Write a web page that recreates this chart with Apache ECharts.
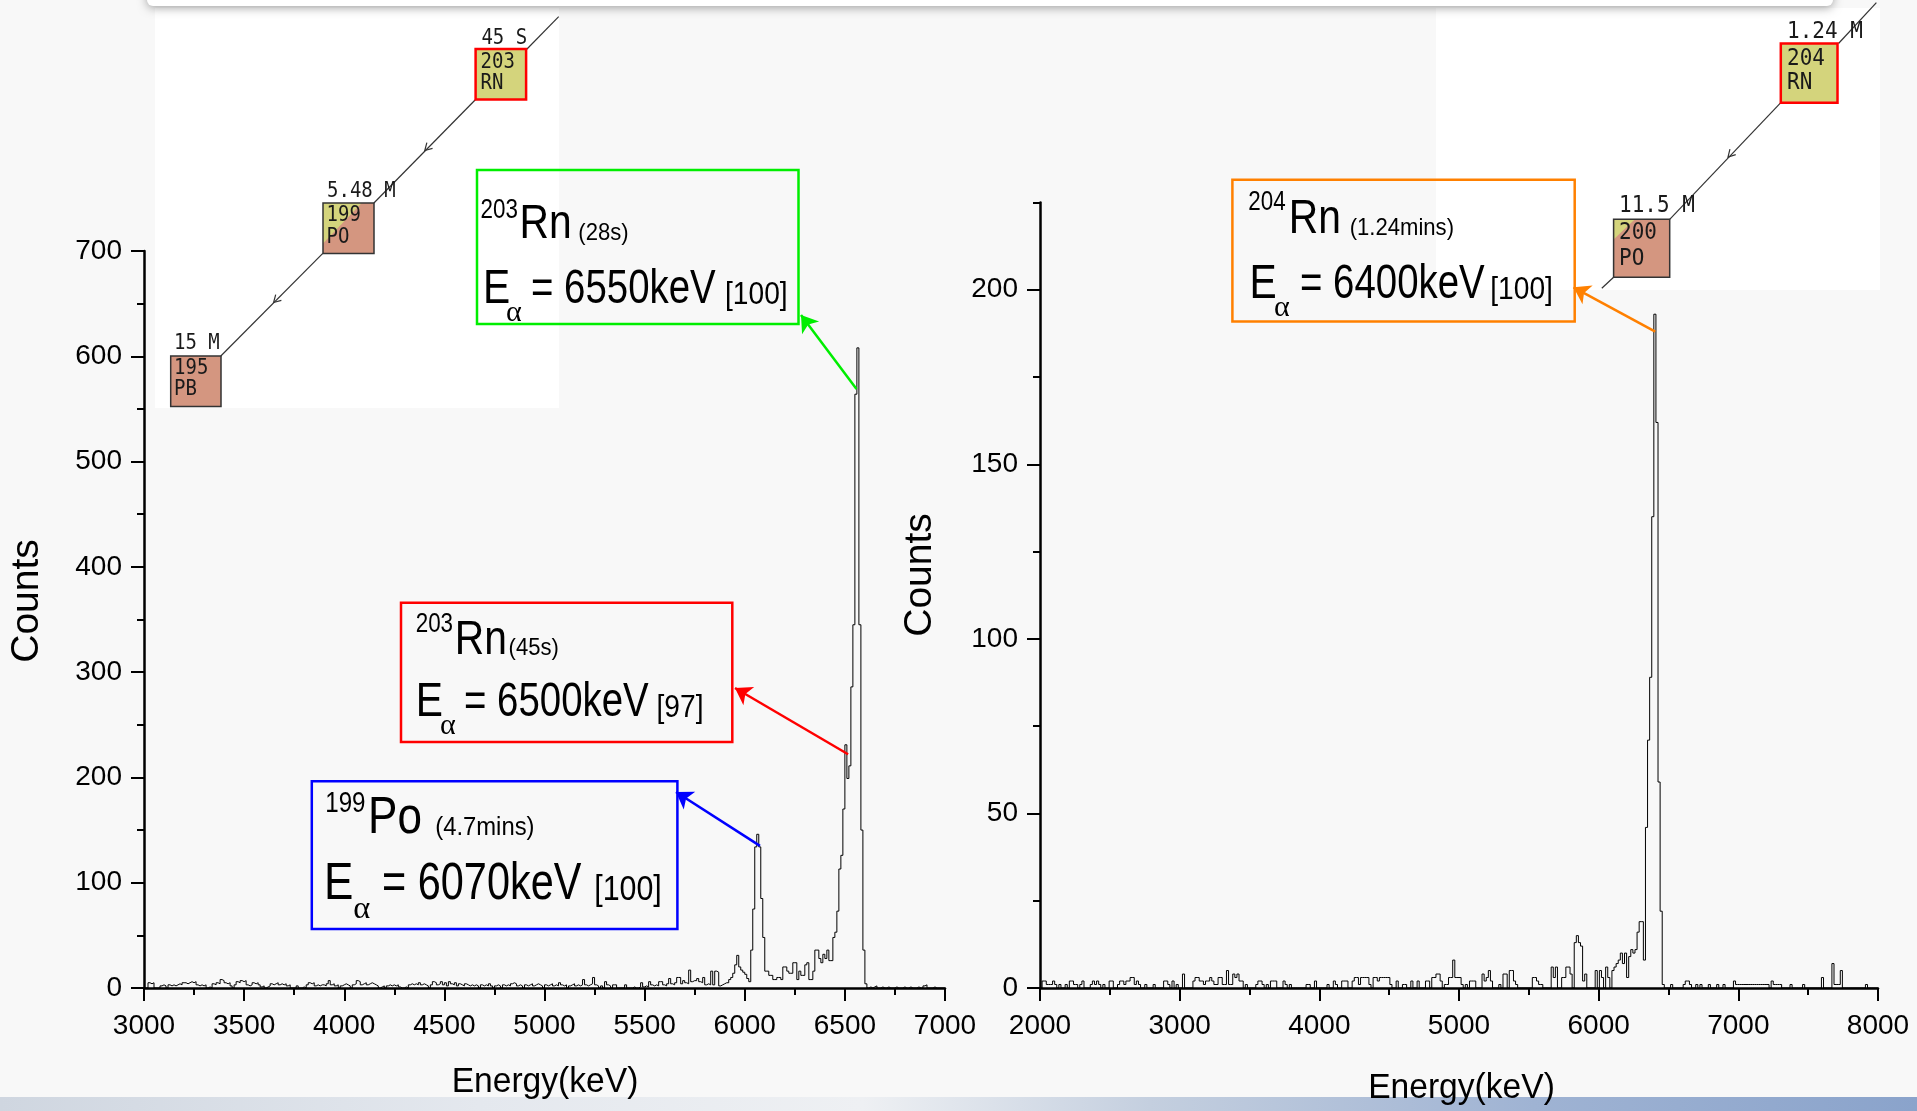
<!DOCTYPE html>
<html>
<head>
<meta charset="utf-8">
<script src="https://cdn.jsdelivr.net/npm/echarts@6/dist/echarts.min.js"></script>
<style>
  html, body { margin: 0; padding: 0; background: #f8f8f8; }
  #chart { width: 1917px; height: 1111px; }
</style>
</head>
<body>
<div id="chart"></div>
<script>
// 左谱：10 keV 每道，3000-7000 keV
const leftStart = 3000, leftBin = 10;
const l3000 = [0,0,5,4,5,0,0,0,2,3, 2,0,3,2,3,2,3,4,3,5, 5,4,5,6,5,6,3,2,3,2, 3,0,1,0,4,3,5,4,8,7,
  5,4,5,2,0,3,6,5,7,6, 7,3,2,3,5,4,5,3,1,2, 0,1,2,4,3,4,5,3,4,3, 4,2,3,0,0,0,2,0,0,1,
  0,3,5,4,5,2,3,2,3,3, 2,4,7,3,4,2,3,0,2,3];
const l4000 = [4,3,2,0,3,4,7,6,3,4, 5,3,4,5,4,3,2,0,1,2, 0,2,3,2,3,2,3,1,0,0, 1,0,3,4,3,4,3,5,3,4,
  3,2,0,3,6,5,3,4,6,3, 5,2,6,4,3,5,2,4,3,2, 4,3,2,3,2,3,2,0,3,2, 3,2,4,2,0,2,3,2,0,3,
  2,3,2,4,5,4,2,3,2,0, 3,2,3,4,2,3,4,3,2,0];
const l5000 = [3,2,3,4,2,3,2,5,3,2, 3,0,2,3,4,2,3,2,3,8, 3,2,3,4,10,3,2,0,2,0, 6,3,2,0,3,3,0,0,0,0,
  3,0,0,0,1,0,0,1,5,1, 2,1,6,3,2,3,2,6,6,3, 2,4,9,4,3,5,10,10,4,7, 5,4,17,6,7,7,9,6,5,10,
  3,4,3,16,3,16,15,2,3,4, 5,5,8,10,14,22,31,20,17,15];
const l6000 = [13,9,6,36,75,134,146,134,85,48, 16,16,12,12,8,8,10,10,8,20, 20,16,14,14,24,24,8,16,12,12,
  22,24,8,8,16,36,36,28,24,32, 28,36,26,26,48,53,73,113,126,170, 231,199,211,286,345,564,608,345,150,36,
  4,0,1,0,1,2,0,0,1,0, 0,1,0,0,0,1,0,0,0,1, 0,0,1,0,0,0,1,0,0,2, 3,0,0,0,1,0,0,0,0,0];

// 右谱：15 keV 每道，2000-8000 keV
const rightStart = 2000, rightBin = 15;
const r2000 = [0,2,2,1,1,1,2,1,0,1, 0,0,1,0,2,2,1,1,0,1, 2,0,0,0,1,2,1,2,1,0, 1,0,0,2,2,0,0,1,2,2,
  1,2,2,3,3,1,2,1,0,0, 1,0,0,0,1,0,0,0,0,2, 2,1,0,2,0,1,0,0,4,0, 0,0,0,2,3,3,2,2,1,2,
  2,3,2,1,1,3,3,1,1,5, 1,1,4,3,4,2,2,0,1,0];
const r3500 = [0,0,0,1,2,2,1,0,1,0, 2,2,2,0,0,0,2,1,0,1, 0,0,0,0,0,0,0,1,1,0, 0,2,0,0,0,0,0,1,0,0,
  2,1,0,0,2,2,2,0,0,2, 3,3,1,3,3,3,3,1,0,3, 3,2,3,3,3,3,3,1,0,0, 2,0,0,1,1,0,0,2,0,0,
  2,0,0,0,2,2,0,3,3,4, 4,2,0,1,1,3,3,8,3,3];
const r5000 = [3,1,0,1,0,2,2,2,0,0, 0,4,2,3,5,2,0,0,0,1, 0,4,4,0,5,5,2,1,0,0, 0,0,0,0,0,3,3,2,1,1,
  0,0,0,0,6,3,6,0,0,3, 3,6,6,4,0,13,15,13,12,2, 4,0,0,0,0,5,0,5,3,0, 6,3,0,5,6,7,8,10,7,10,
  3,9,11,10,11,16,19,19,8,46, 71,89,135,193,162,59,22,1,0,0];
const r6500 = [0,1,0,0,0,0,0,1,2,2, 1,0,0,1,0,1,0,0,0,1, 0,0,0,1,0,0,1,0,0,0, 0,2,1,1,1,1,1,1,1,1,
  1,1,1,1,1,1,1,1,0,2, 1,1,1,1,0,0,0,0,1,0, 0,0,0,0,1,0,0,0,0,0, 0,0,0,3,0,0,0,0,7,1,
  1,1,5,0,0,0,0,0,0,0, 0,0,0,0,1,0,0,0,0,0];

// 坐标轴
const leftX = { min: 3000, max: 7000, interval: 500 };
const leftY = { min: 0, max: 700, interval: 100 };
const rightX = { min: 2000, max: 8000, interval: 1000 };
const rightY = { min: 0, max: 225, interval: 50 };
const rightYLabels = [0, 50, 100, 150, 200];

// 箭头起点（峰上的数据点）
const peakLeft = [[6558, 569], [6516, 222], [6076, 135]];
const peakRight = [6405, 188];

function steps(start, bin, counts) {
  const pts = counts.map((c, i) => [start + i * bin, c]);
  pts.push([start + counts.length * bin, counts[counts.length - 1]]);
  return pts;
}

const FONT = 'Liberation Sans';
const labelStyle = { fontSize: 28, color: '#000', fontFamily: FONT, formatter: v => String(v) };
const lineBlack = { color: '#000', width: 2.5 };
const tickBlack = { color: '#000', width: 2 };

function frag(x, base, s, fs, sx, family) {
  return {
    type: 'text', x: x, y: base - 0.33 * fs, scaleX: sx, z: 100,
    style: { text: s, fontSize: fs, fontFamily: family || FONT, fill: '#000',
      align: 'left', verticalAlign: 'middle', textAlign: 'left', textVerticalAlign: 'middle' }
  };
}

function annot(b) {
  const k = b.k || 1;
  return [
    { type: 'rect', z: 99, shape: { x: b.rect[0], y: b.rect[1], width: b.rect[2], height: b.rect[3] },
      style: { fill: 'none', stroke: b.color, lineWidth: 2.5 } },
    frag(b.xs[0], b.top + 20 * k, b.mass, 28 * k, 0.8),
    frag(b.xs[1], b.b1, b.sym, 48 * k, 0.85),
    frag(b.xs[2], b.b1, b.half, 24 * k, 0.92),
    frag(b.xs[3], b.b2, 'E', 48 * k, 0.85),
    frag(b.xs[4], b.b2 + 17 * k, 'α', 30 * k, 1, 'Liberation Serif'),
    frag(b.xs[5], b.b2, b.energy, 48 * k, 0.8),
    frag(b.xs[6], b.b2, b.inten, 32 * k, 0.88)
  ];
}

const boxes = [
  { color: '#00ee00', rect: [477, 170, 321.5, 154], top: 199.3, b1: 240.8, b2: 305.6,
    xs: [480.5, 519.6, 578.3, 483, 506, 531, 725], mass: '203', sym: 'Rn', half: '(28s)', energy: '= 6550keV', inten: '[100]' },
  { color: '#ff0000', rect: [401, 602.7, 331.3, 139.4], top: 613.7, b1: 656.5, b2: 718.9,
    xs: [415.7, 454.8, 508.6, 415.7, 440, 464, 656.5], mass: '203', sym: 'Rn', half: '(45s)', energy: '= 6500keV', inten: '[97]' },
  { color: '#0000ff', rect: [311.8, 781.2, 365.6, 147.9], top: 792.2, b1: 836.3, b2: 902.3, k: 1.08,
    xs: [325.2, 368, 435.2, 324, 353.3, 382, 594.2], mass: '199', sym: 'Po', half: '(4.7mins)', energy: '= 6070keV', inten: '[100]' },
  { color: '#ff8000', rect: [1232.4, 179.7, 342.3, 141.8], top: 192, b1: 236, b2: 300.8,
    xs: [1248.3, 1288.7, 1349.7, 1249.5, 1274, 1300, 1490.3], mass: '204', sym: 'Rn', half: '(1.24mins)', energy: '= 6400keV', inten: '[100]' }
];

// 衰变链小图
const YEL = '#d4d47c', SAL = '#d49680';
function mono(x, cy, s, fs) {
  return { type: 'text', x: x, y: cy, z: 10, scaleY: 1.1,
    style: { text: s, fontSize: fs, fontFamily: 'DejaVu Sans Mono', fill: '#1a1a1a',
      align: 'left', verticalAlign: 'middle', textAlign: 'left', textVerticalAlign: 'middle' } };
}
function seg(x1, y1, x2, y2) {
  return { type: 'line', z: 5, shape: { x1: x1, y1: y1, x2: x2, y2: y2 }, style: { stroke: '#333', lineWidth: 1.2 } };
}
function chevron(px, py, x1, y1, x2, y2) {
  const L = Math.hypot(x2 - x1, y2 - y1), dx = (x2 - x1) / L, dy = (y2 - y1) / L;
  const nx = -dy, ny = dx;
  return { type: 'polyline', z: 6,
    shape: { points: [[px - 7 * dx + 4 * nx, py - 7 * dy + 4 * ny], [px, py], [px - 7 * dx - 4 * nx, py - 7 * dy - 4 * ny]] },
    style: { stroke: '#333', lineWidth: 1.2, fill: 'none' } };
}
function nuc(x, y, w, h, fill, stroke, lw, tri) {
  const els = [{ type: 'rect', z: 7, shape: { x: x, y: y, width: w, height: h }, style: { fill: fill } }];
  if (tri) els.push({ type: 'polygon', z: 8, shape: { points: [[x, y], [x + tri[0] * w, y], [x, y + tri[1] * h]] }, style: { fill: YEL } });
  els.push({ type: 'rect', z: 9, shape: { x: x, y: y, width: w, height: h }, style: { fill: 'none', stroke: stroke, lineWidth: lw } });
  return els;
}

const chain = [].concat(
  [{ type: 'rect', z: -10, shape: { x: 155, y: 8, width: 404, height: 400 }, style: { fill: '#ffffff' } },
   { type: 'rect', z: -10, shape: { x: 1436, y: 8, width: 444, height: 282 }, style: { fill: '#ffffff' } }],
  seg(526.5, 49.5, 558.7, 16.7), seg(475.6, 99.5, 373.9, 203), chevron(424.8, 150.5, 475.6, 99.5, 373.9, 203),
  seg(322.8, 253.3, 220.8, 356), chevron(273.6, 302.5, 322.8, 253.3, 220.8, 356),
  nuc(475.6, 49, 50.5, 50.5, YEL, '#ff0000', 2.5),
  nuc(323, 203, 51, 50.5, SAL, '#333', 1.5, [0.76, 0.8]),
  nuc(170.7, 356, 50.3, 50.5, SAL, '#333', 1.5),
  mono(481.4, 38.3, '45 S', 19), mono(480.5, 62.5, '203', 19), mono(480.5, 83.3, 'RN', 19),
  mono(327, 191.7, '5.48 M', 19), mono(326.5, 215.5, '199', 19), mono(326.5, 237.3, 'PO', 19),
  mono(174, 344, '15 M', 19), mono(174, 368.3, '195', 19), mono(174, 390, 'PB', 19),
  seg(1838.5, 43.5, 1876.4, 2.7), seg(1780.8, 102.7, 1669.7, 219.3), chevron(1728, 157, 1780.8, 102.7, 1669.7, 219.3),
  seg(1613.6, 277.3, 1601.8, 288.3),
  nuc(1780.8, 43.5, 56.7, 59.2, YEL, '#ff0000', 2.5),
  nuc(1613.6, 219.3, 56.1, 58, SAL, '#333', 1.5, [0.38, 0.35]),
  mono(1787, 31.7, '1.24 M', 21), mono(1787, 59, '204', 21), mono(1787, 83, 'RN', 21),
  mono(1619, 205.8, '11.5 M', 21), mono(1619, 233.3, '200', 21), mono(1619, 258.7, 'PO', 21)
);

function title(x, y, s, fs, sx, rot) {
  return { type: 'text', x: x, y: y, scaleX: sx, rotation: rot || 0, z: 100,
    style: { text: s, fontSize: fs, fontFamily: FONT, fill: '#000',
      align: 'center', verticalAlign: 'middle', textAlign: 'center', textVerticalAlign: 'middle' } };
}

const chart = echarts.init(document.getElementById('chart'));

const decor = [
  { type: 'rect', z: 90, shape: { x: 0, y: 1097, width: 1917, height: 14 },
    style: { fill: new echarts.graphic.LinearGradient(0, 0, 1, 0, [
      { offset: 0, color: '#cfd6e0' }, { offset: 0.25, color: '#e4e8ee' }, { offset: 0.45, color: '#eef0f3' },
      { offset: 0.6, color: '#c4cfdf' }, { offset: 0.8, color: '#9fb3d3' }, { offset: 1, color: '#8aa3cb' }]) } },
  { type: 'rect', z: 95, shape: { x: 147, y: -20, width: 1686, height: 26, r: 6 },
    style: { fill: '#ffffff', shadowBlur: 10, shadowColor: 'rgba(0,0,0,0.35)', shadowOffsetY: 2 } },
  title(27, 601, 'Counts', 39, 1, Math.PI / 2),
  title(920.6, 575, 'Counts', 39, 1, Math.PI / 2),
  title(545, 1082, 'Energy(keV)', 35, 0.96),
  title(1461.5, 1088, 'Energy(keV)', 35, 0.96)
];

let graphics = chain.concat(decor);
boxes.forEach(b => { graphics = graphics.concat(annot(b)); });

const arrowColors = ['#00ee00', '#ff0000', '#0000ff'];
const arrowEnds = [[801, 315], [735, 688], [676, 792]];

chart.setOption({
  backgroundColor: '#f8f8f8',
  animation: false,
  grid: [
    { left: 144, top: 251, width: 801, height: 737, outerBoundsMode: 'none' },
    { left: 1040, top: 202.5, width: 838, height: 785.5, outerBoundsMode: 'none' }
  ],
  xAxis: [
    { type: 'value', gridIndex: 0, min: leftX.min, max: leftX.max, interval: leftX.interval,
      axisLine: { lineStyle: lineBlack }, axisTick: { length: 13, lineStyle: tickBlack },
      minorTick: { show: true, splitNumber: 2, length: 7, lineStyle: tickBlack },
      axisLabel: Object.assign({ margin: 24 }, labelStyle), splitLine: { show: false } },
    { type: 'value', gridIndex: 1, min: rightX.min, max: rightX.max, interval: rightX.interval,
      axisLine: { lineStyle: lineBlack }, axisTick: { length: 13, lineStyle: tickBlack },
      minorTick: { show: true, splitNumber: 2, length: 7, lineStyle: tickBlack },
      axisLabel: Object.assign({ margin: 24 }, labelStyle), splitLine: { show: false } }
  ],
  yAxis: [
    { type: 'value', gridIndex: 0, position: 'left', min: leftY.min, max: leftY.max, interval: leftY.interval,
      axisLine: { show: true, lineStyle: lineBlack }, axisTick: { show: true, length: 13, lineStyle: tickBlack },
      minorTick: { show: true, splitNumber: 2, length: 7, lineStyle: tickBlack },
      axisLabel: Object.assign({ margin: 22 }, labelStyle), splitLine: { show: false } },
    { type: 'value', gridIndex: 1, position: 'left', min: rightY.min, max: rightY.max, interval: rightY.interval / 2,
      axisLine: { show: true, lineStyle: lineBlack }, axisTick: { show: true, length: 7, lineStyle: tickBlack },
      axisLabel: { show: false }, splitLine: { show: false } },
    { type: 'value', gridIndex: 1, position: 'left', min: rightY.min, max: rightY.max, interval: rightY.interval,
      axisLine: { show: false }, axisTick: { show: true, length: 13, lineStyle: tickBlack, customValues: rightYLabels },
      axisLabel: Object.assign({}, labelStyle, { margin: 22, customValues: rightYLabels, formatter: v => (v % 50 ? '' : String(v)) }),
      splitLine: { show: false } }
  ],
  series: [
    { type: 'line', xAxisIndex: 0, yAxisIndex: 0, step: 'end', symbol: 'none', silent: true,
      data: steps(leftStart, leftBin, [].concat(l3000, l4000, l5000, l6000)),
      lineStyle: { color: '#000', width: 1 },
      markLine: { silent: true, symbol: ['none', 'arrow'], symbolSize: 16, label: { show: false }, emphasis: { disabled: true },
        data: peakLeft.map((p, i) => [
          { coord: p, lineStyle: { color: arrowColors[i], width: 2.5, type: 'solid' }, itemStyle: { color: arrowColors[i] } },
          { x: arrowEnds[i][0], y: arrowEnds[i][1] }
        ]) } },
    { type: 'line', xAxisIndex: 1, yAxisIndex: 2, step: 'end', symbol: 'none', silent: true,
      data: steps(rightStart, rightBin, [].concat(r2000, r3500, r5000, r6500)),
      lineStyle: { color: '#000', width: 1 },
      markLine: { silent: true, symbol: ['none', 'arrow'], symbolSize: 16, label: { show: false }, emphasis: { disabled: true },
        data: [[
          { coord: peakRight, lineStyle: { color: '#ff8000', width: 2.5, type: 'solid' }, itemStyle: { color: '#ff8000' } },
          { x: 1573.5, y: 287.3 }
        ]] } }
  ],
  graphic: { elements: graphics }
});
</script>
</body>
</html>
